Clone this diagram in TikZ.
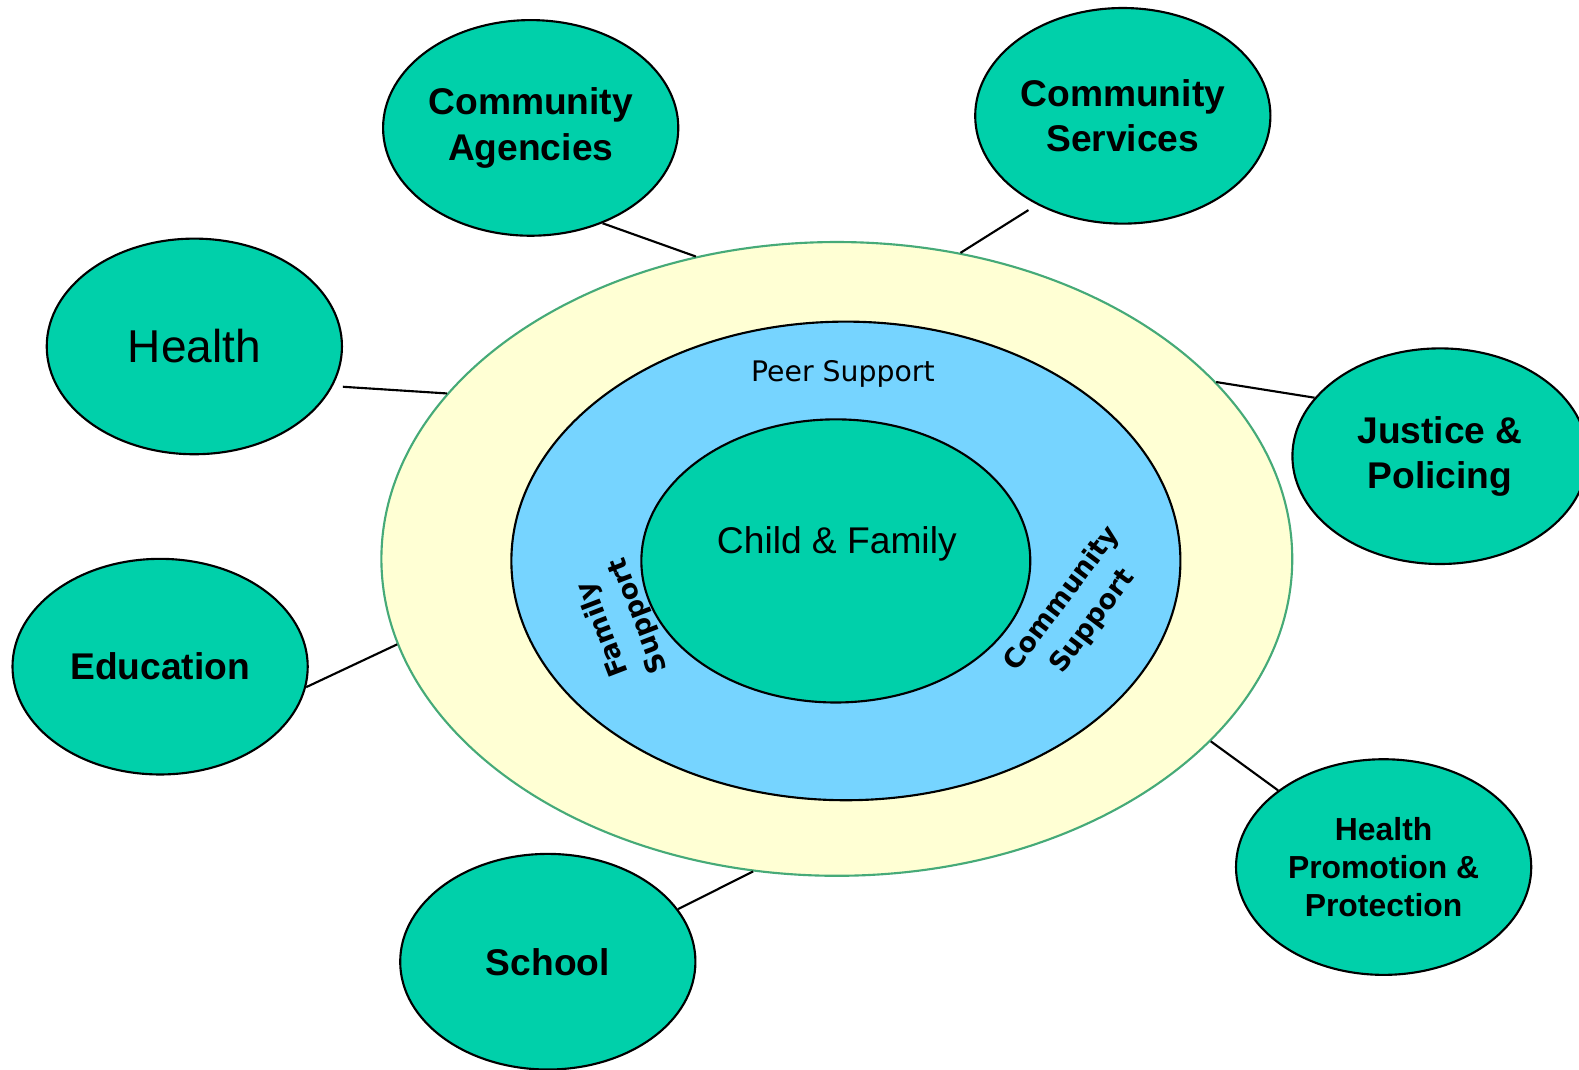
\documentclass[tikz,border=0pt]{standalone}
\usepackage{fontspec}
\setmainfont{Liberation Sans}
\newfontfamily\verdana{DejaVu Sans}
\usetikzlibrary{shapes.geometric}
\definecolor{sea}{RGB}{0,208,170}
\definecolor{sky}{RGB}{118,212,255}
\definecolor{cream}{RGB}{255,255,212}
\definecolor{rim}{RGB}{70,170,120}

\begin{document}
\begin{tikzpicture}[x=0.01cm, y=-0.01cm,
    sector/.style={ellipse, draw, line width=0.6pt, fill=sea, inner sep=0pt,
      minimum width=2.93cm, minimum height=2.14cm, align=center,
      font=\bfseries\fontsize{10.5}{12.8}\selectfont},
    ringlabel/.style={align=center, inner sep=0pt, font=\verdana\bfseries\fontsize{7.6}{10.8}\selectfont},
    link/.style={line width=0.6pt}]
    \useasboundingbox (0,0) rectangle (1568,1062);

    % the three rings
    \node[ellipse, draw=rim, line width=0.6pt, fill=cream, minimum width=9.04cm, minimum height=6.29cm] (ring) at (831,555) {};
    \node[ellipse, draw, line width=0.6pt, fill=sky, minimum width=6.64cm, minimum height=4.75cm] (peer) at (840,557) {};
    \node[ellipse, draw, line width=0.6pt, fill=sea, minimum width=3.86cm, minimum height=2.81cm] (child) at (830,557) {};

    \node[font=\verdana\fontsize{8}{10}\selectfont, inner sep=0pt] (peerlbl) at (837,371) {Peer Support};
    \node[font=\fontsize{10.5}{12.8}\selectfont, inner sep=0pt] (childlbl) at (831,540) {Child \& Family};
    \node[ringlabel, rotate=111] (familylbl) at (617,618) {Family\\Support};
    \node[ringlabel, rotate=53] (commlbl) at (1070,606) {Community\\Support};

    % sectors round the rings
    \node[sector] (agencies) at (527,127) {Community\\Agencies};
    \node[sector] (services) at (1115,115) {Community\\Services};
    \node[sector, font=\fontsize{13}{15}\selectfont] (health) at (193,344) {Health};
    \node[sector] (justice) at (1430,453) {Justice \&\\Policing};
    \node[sector] (education) at (159,662) {Education};
    \node[sector, font=\bfseries\fontsize{9}{10.7}\selectfont] (promotion) at (1374,861) {Health\\Promotion \&\\Protection};
    \node[sector] (school) at (544,955) {School};

    \draw[link] (agencies.-53) -- (ring.115);
    \draw[link, shorten <=0.1cm] (services.-134) -- (ring.68);
    \draw[link, shorten <=0.1cm] (health.-16) -- (ring.157);
    \draw[link] (justice.155) -- (ring.25);
    \draw[link] (education.-8) -- (ring.191);
    \draw[link] (promotion.144) -- (ring.-26);
    \draw[link] (school.22) -- (ring.-105);
\end{tikzpicture}
\end{document}
